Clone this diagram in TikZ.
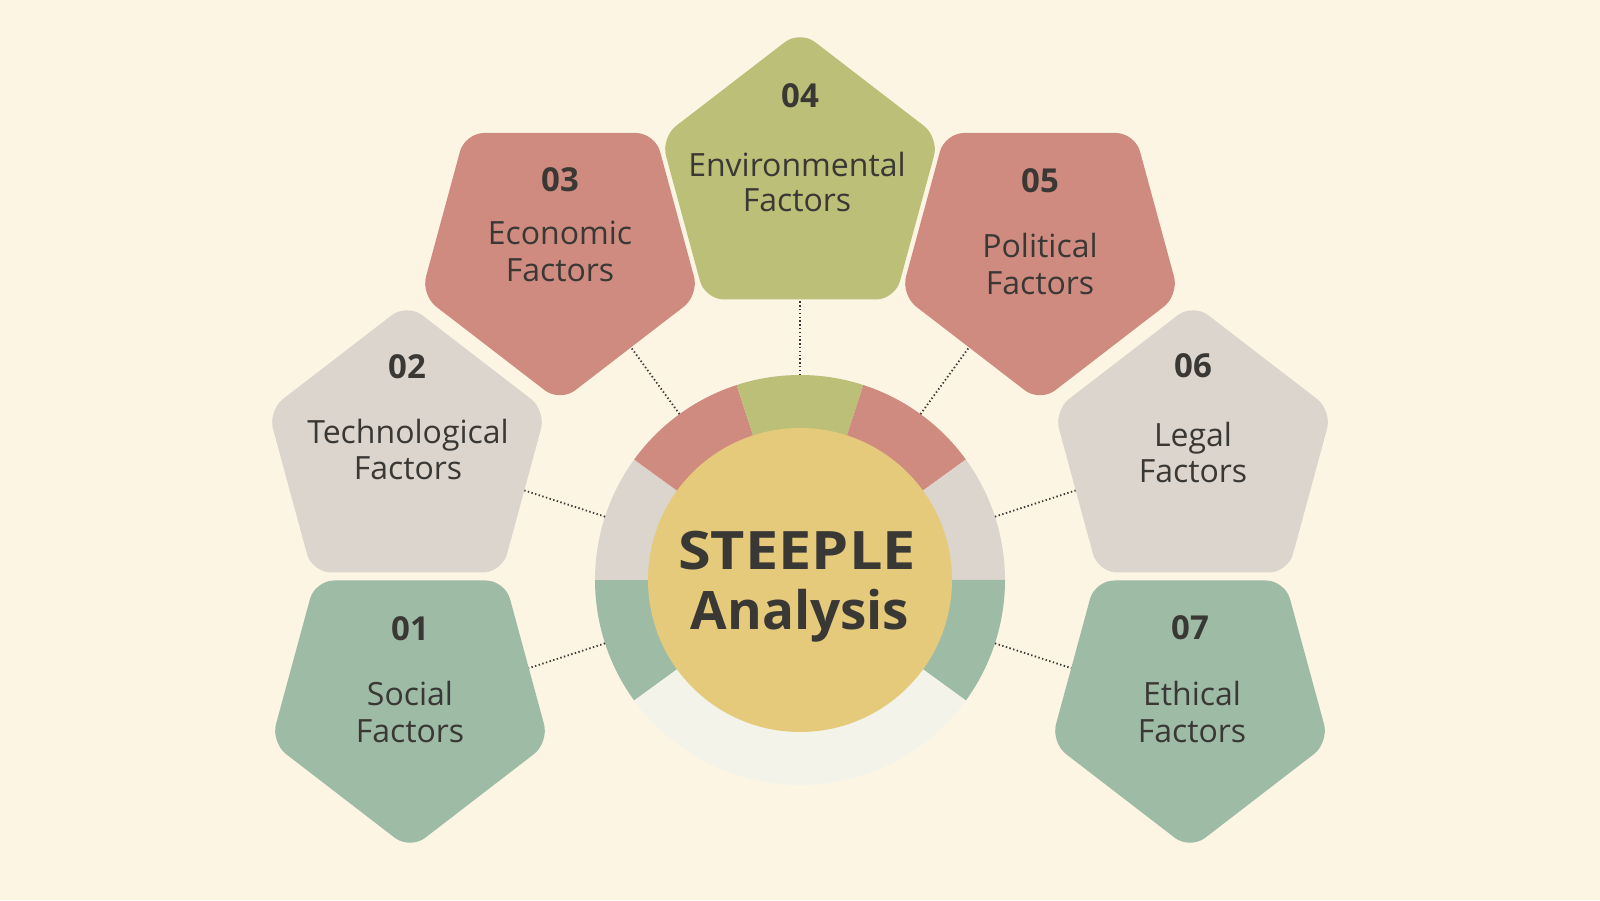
\documentclass[tikz,border=0pt]{standalone}
\usepackage{fontspec}
\setmainfont{Open Sans}
\newfontfamily\widefont[FakeStretch=1.12]{Open Sans}
\usetikzlibrary{calc}

\definecolor{bgcream}{HTML}{FDF5E4}
\definecolor{redf}{HTML}{CF8B7F}
\definecolor{olivef}{HTML}{BBBF78}
\definecolor{greyf}{HTML}{DCD5CD}
\definecolor{greenf}{HTML}{9EBBA6}
\definecolor{yellowf}{HTML}{E6CA7C}
\definecolor{palef}{HTML}{F3F3EA}
\definecolor{inkc}{HTML}{3A3835}

% pentagon, point up, centred at the origin
\newcommand{\pent}{(0,135) -- (139,28) -- (95,-134) -- (-95,-134) -- (-139,28) -- cycle}

\tikzset{
  pentbox/.style={rounded corners=19pt},
  numlbl/.style={font=\fontsize{33}{40}\selectfont\bfseries, text=inkc, anchor=base, inner sep=0pt},
  factlbl/.style={font=\fontsize{32}{38}\selectfont, text=inkc, anchor=base, inner sep=0pt},
  titlelbl/.style={font=\fontsize{53}{60}\selectfont\bfseries, text=inkc, anchor=base, inner sep=0pt},
  link/.style={inkc, line width=1.8pt, dash pattern=on 1.4pt off 2.4pt},
}

\begin{document}
\begin{tikzpicture}[x=1pt, y=1pt]
  \useasboundingbox (0,0) rectangle (1600,900);
  \fill[bgcream] (0,0) rectangle (1600,900);
  \coordinate (o) at (800,320);

  % ring
  \fill[greenf] (o) -- ++(180:205) arc[start angle=180, end angle=216, radius=205] -- cycle;
  \fill[greyf] (o) -- ++(144:205) arc[start angle=144, end angle=180, radius=205] -- cycle;
  \fill[redf] (o) -- ++(108:205) arc[start angle=108, end angle=144, radius=205] -- cycle;
  \fill[olivef] (o) -- ++(72:205) arc[start angle=72, end angle=108, radius=205] -- cycle;
  \fill[redf] (o) -- ++(36:205) arc[start angle=36, end angle=72, radius=205] -- cycle;
  \fill[greyf] (o) -- ++(0:205) arc[start angle=0, end angle=36, radius=205] -- cycle;
  \fill[greenf] (o) -- ++(-36:205) arc[start angle=-36, end angle=0, radius=205] -- cycle;
  \fill[palef] (o) -- ++(216:205) arc[start angle=216, end angle=324, radius=205] -- cycle;

  % dotted links
  \coordinate (k1) at ($(o)+(198:205)$); \coordinate (e1) at ($(o)+(198:292)$);
  \coordinate (k2) at ($(o)+(162:205)$); \coordinate (e2) at ($(o)+(162:292)$);
  \coordinate (k3) at ($(o)+(126:205)$); \coordinate (e3) at ($(o)+(126:292)$);
  \coordinate (k4) at ($(o)+(90:205)$);  \coordinate (e4) at ($(o)+(90:292)$);
  \coordinate (k5) at ($(o)+(54:205)$);  \coordinate (e5) at ($(o)+(54:292)$);
  \coordinate (k6) at ($(o)+(18:205)$);  \coordinate (e6) at ($(o)+(18:292)$);
  \coordinate (k7) at ($(o)+(-18:205)$); \coordinate (e7) at ($(o)+(-18:292)$);
  \draw[link] (k1) -- (e1);
  \draw[link] (k2) -- (e2);
  \draw[link] (k3) -- (e3);
  \draw[link] (k4) -- (e4);
  \draw[link] (k5) -- (e5);
  \draw[link] (k6) -- (e6);
  \draw[link] (k7) -- (e7);

  \node[circle, fill=yellowf, minimum size=304pt, inner sep=0pt] (ctr) at (o) {};
  \node[titlelbl] (t1) at (797,330) {\widefont\bfseries STEEPLE};
  \node[titlelbl] (t2) at (800,270) {Analysis};

  % pentagons
  \fill[greenf, pentbox, shift={(410,185.5)}, yscale=-1] \pent;
  \fill[greyf, pentbox, shift={(407,461.5)}] \pent;
  \fill[redf, pentbox, shift={(560,633)}, yscale=-1] \pent;
  \fill[olivef, pentbox, shift={(800,734.5)}] \pent;
  \fill[redf, pentbox, shift={(1040,633)}, yscale=-1] \pent;
  \fill[greyf, pentbox, shift={(1193,461.5)}] \pent;
  \fill[greenf, pentbox, shift={(1190,185.5)}, yscale=-1] \pent;

  \node[numlbl] (n1) at (410,260) {01};
  \node[factlbl] (a1) at (410,195) {Social};
  \node[factlbl] (b1) at (410,158) {Factors};

  \node[numlbl] (n2) at (407,521) {02};
  \node[factlbl] (a2) at (408,456) {Technological};
  \node[factlbl] (b2) at (408,420) {Factors};

  \node[numlbl] (n3) at (560,708) {03};
  \node[factlbl] (a3) at (560,655) {Economic};
  \node[factlbl] (b3) at (560,618) {Factors};

  \node[numlbl] (n4) at (800,792) {04};
  \node[factlbl] (a4) at (797,723) {Environmental};
  \node[factlbl] (b4) at (797,688) {Factors};

  \node[numlbl] (n5) at (1040,707) {05};
  \node[factlbl] (a5) at (1040,642) {Political};
  \node[factlbl] (b5) at (1040,605) {Factors};

  \node[numlbl] (n6) at (1193,522) {06};
  \node[factlbl] (a6) at (1193,453) {Legal};
  \node[factlbl] (b6) at (1193,417) {Factors};

  \node[numlbl] (n7) at (1190,261) {07};
  \node[factlbl] (a7) at (1192,195) {Ethical};
  \node[factlbl] (b7) at (1192,158) {Factors};
\end{tikzpicture}
\end{document}
